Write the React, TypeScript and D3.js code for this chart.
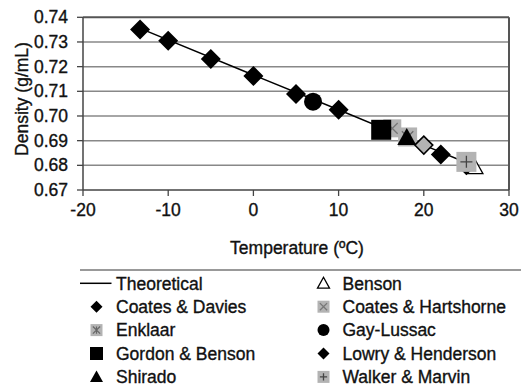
import React from "react";
import { scaleLinear, line } from "d3";

// theoretical curve (temperature, density)
const theoryT = [-13.3, 0, 10, 20, 26];
const theoryD = [0.7355, 0.7166, 0.7025, 0.6882, 0.6796];

const coatesDaviesT = [-13.3, -10, -5, 0, 5, 10, 22];
const coatesDaviesD = [0.7351, 0.7305, 0.7231, 0.7162, 0.7089, 0.7025, 0.6844];
const lowryT = [20, 25];
const lowryD = [0.6882, 0.6796];
const lowryFill = ["#b3b3b3", "#000"];
const gayLussacT = [7];
const gayLussacD = [0.7058];
const gordonT = [15];
const gordonD = [0.6944];
const hartshorneT = [16.3];
const hartshorneD = [0.695];
const enklaarT = [18.1];
const enklaarD = [0.6915];
const shiradoT = [18];
const shiradoD = [0.6913];
const walkerT = [25];
const walkerD = [0.6814];
const bensonT = [26];
const bensonD = [0.6792];

const xTicks = [-20, -10, 0, 10, 20, 30];
const yTicks = [0.67, 0.68, 0.69, 0.7, 0.71, 0.72, 0.73, 0.74];

const legendLeft = ["Theoretical", "Coates & Davies", "Enklaar", "Gordon & Benson", "Shirado"];
const legendRight = ["Benson", "Coates & Hartshorne", "Gay-Lussac", "Lowry & Henderson", "Walker & Marvin"];

const font = "'Liberation Sans', Arial, sans-serif";
const grey = "#b3b3b3";
const txt = { fontSize: 17.5, fill: "#111", stroke: "#111", strokeWidth: 0.35 };

const Marker = ({ kind, x, y, s, fill }) => {
  const h = s / 2;
  if (kind === "diamond")
    return <path d={`M${x},${y - h}L${x + h},${y}L${x},${y + h}L${x - h},${y}Z`} fill={fill || "#000"} stroke="#000" strokeWidth={fill && fill !== "#000" ? 1.5 : 0} />;
  if (kind === "circle") return <circle cx={x} cy={y} r={h} fill="#000" />;
  if (kind === "square") return <rect x={x - h} y={y - h} width={s} height={s} fill="#000" />;
  if (kind === "triangle")
    return <path d={`M${x},${y - h}L${x + h},${y + h * 0.8}L${x - h},${y + h * 0.8}Z`} fill="#000" />;
  if (kind === "opentri")
    return <path d={`M${x},${y - h}L${x + h},${y + h * 0.8}L${x - h},${y + h * 0.8}Z`} fill="#fff" stroke="#000" strokeWidth={1.3} />;
  const q = h * 0.6;
  if (kind === "xsq")
    return (
      <g>
        <rect x={x - h} y={y - h} width={s} height={s} fill={grey} />
        <path d={`M${x - q},${y - q}L${x + q},${y + q}M${x + q},${y - q}L${x - q},${y + q}`} stroke="#777" strokeWidth={1.3} />
      </g>
    );
  if (kind === "star")
    return (
      <g>
        <rect x={x - h} y={y - h} width={s} height={s} fill={grey} />
        <path d={`M${x - q},${y - q}L${x + q},${y + q}M${x + q},${y - q}L${x - q},${y + q}M${x},${y - q}L${x},${y + q}`} stroke="#666" strokeWidth={1.2} />
      </g>
    );
  // plus square
  return (
    <g>
      <rect x={x - h} y={y - h} width={s} height={s} fill={grey} />
      <path d={`M${x - q},${y}L${x + q},${y}M${x},${y - q}L${x},${y + q}`} stroke="#444" strokeWidth={1.3} />
    </g>
  );
};

export default function App() {
  const x = scaleLinear().domain([-20, 30]).range([83, 509]);
  const y = scaleLinear().domain([0.67, 0.74]).range([190, 17.3]);

  const theory = line()
    .x((d) => x(d[0]))
    .y((d) => y(d[1]))(theoryT.map((t, i) => [t, theoryD[i]]));

  const pts = (ts, ds, kind, s, fills?) =>
    ts.map((t, i) => <Marker key={kind + i} kind={kind} x={x(t)} y={y(ds[i])} s={s} fill={fills ? fills[i] : undefined} />);

  const rowY = (i) => 283.3 + i * 23.4;
  const leftKinds = ["line", "diamond", "star", "square", "triangle"];
  const rightKinds = ["opentri", "xsq", "circle", "diamond", "plus"];
  const legendSize = { diamond: 12, star: 12, square: 13, triangle: 13, opentri: 12, xsq: 12, circle: 12, plus: 12 };

  return (
    <svg width={521} height={387} style={{ position: "absolute", left: 0, top: 0, background: "#fff" }} fontFamily={font}>
      {/* grid */}
      {yTicks.slice(1, -1).map((t) => (
        <line key={t} x1={x(-20)} x2={x(30)} y1={y(t)} y2={y(t)} stroke="#888" strokeWidth={1.5} />
      ))}
      <line x1={x(-20)} x2={x(30)} y1={y(0.74)} y2={y(0.74)} stroke="#555" strokeWidth={2} />
      <line x1={x(30)} x2={x(30)} y1={y(0.74)} y2={y(0.67)} stroke="#555" strokeWidth={2} />
      {/* axes */}
      <line x1={x(-20)} x2={x(-20)} y1={y(0.74)} y2={y(0.67)} stroke="#444" strokeWidth={1.5} />
      <line x1={x(-20)} x2={x(30)} y1={y(0.67)} y2={y(0.67)} stroke="#444" strokeWidth={1.5} />
      {yTicks.map((t) => (
        <g key={t}>
          <line x1={x(-20) - 6} x2={x(-20)} y1={y(t)} y2={y(t)} stroke="#444" strokeWidth={1.3} />
          <text x={68} y={y(t)} dy="0.35em" textAnchor="end" {...txt}>
            {t.toFixed(2)}
          </text>
        </g>
      ))}
      {xTicks.map((t) => (
        <g key={t}>
          <line x1={x(t)} x2={x(t)} y1={y(0.67)} y2={y(0.67) + 6} stroke="#444" strokeWidth={1.3} />
          <text x={x(t)} y={216} textAnchor="middle" {...txt}>
            {t}
          </text>
        </g>
      ))}
      <text x={297} y={254} textAnchor="middle" {...txt}>
        Temperature (ºC)
      </text>
      <text transform="translate(28,99) rotate(-90)" textAnchor="middle" {...txt}>
        Density (g/mL)
      </text>

      {/* data */}
      <path d={theory} fill="none" stroke="#000" strokeWidth={1.5} />
      {pts(bensonT, bensonD, "opentri", 16)}
      {pts(hartshorneT, hartshorneD, "xsq", 18)}
      {pts(enklaarT, enklaarD, "star", 19)}
      {pts(lowryT, lowryD, "diamond", 18, lowryFill)}
      {pts(coatesDaviesT, coatesDaviesD, "diamond", 20)}
      {pts(gayLussacT, gayLussacD, "circle", 18)}
      {pts(gordonT, gordonD, "square", 20)}
      {pts(shiradoT, shiradoD, "triangle", 19)}
      {pts(walkerT, walkerD, "plus", 20)}

      {/* legend */}
      <line x1={80} x2={521} y1={270} y2={270} stroke="#777" strokeWidth={1.5} />
      {legendLeft.map((name, i) => (
        <g key={name}>
          {leftKinds[i] === "line" ? (
            <line x1={80} x2={111.5} y1={rowY(i)} y2={rowY(i)} stroke="#000" strokeWidth={1.5} />
          ) : (
            <Marker kind={leftKinds[i]} x={96.5} y={rowY(i)} s={legendSize[leftKinds[i]]} />
          )}
          <text x={116} y={rowY(i)} dy="0.36em" {...txt}>
            {name}
          </text>
        </g>
      ))}
      {legendRight.map((name, i) => (
        <g key={name}>
          <Marker kind={rightKinds[i]} x={323.5} y={rowY(i)} s={legendSize[rightKinds[i]]} />
          <text x={342.5} y={rowY(i)} dy="0.36em" {...txt}>
            {name}
          </text>
        </g>
      ))}
    </svg>
  );
}
